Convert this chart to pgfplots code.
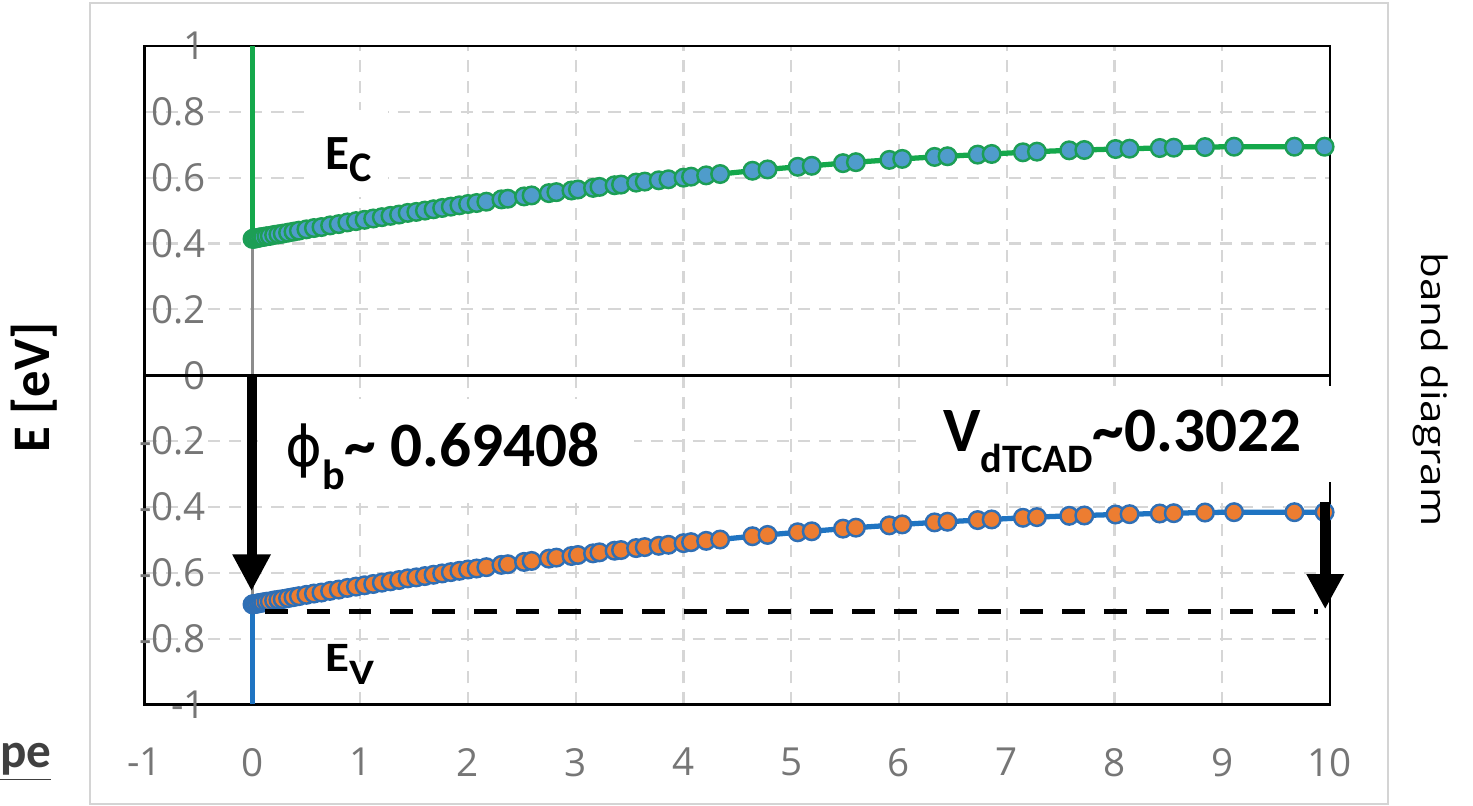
\documentclass[border=0pt]{standalone}
\usepackage{fontspec}
\setmainfont{Carlito}
\newfontfamily\tickfont{Open Sans}
\newfontfamily\phifont{DejaVu Sans}
\usepackage{pgfplots}
\pgfplotsset{compat=1.18}
\usepackage{pgfplotstable}
\usetikzlibrary{arrows.meta}

\definecolor{ecline}{HTML}{14A84B}
\definecolor{ecfill}{HTML}{4F9CCB}
\definecolor{ecedge}{HTML}{1C9E55}
\definecolor{evline}{HTML}{1F74C2}
\definecolor{evfill}{HTML}{ED7D31}
\definecolor{evedge}{HTML}{2F6FB5}
\definecolor{gridgray}{HTML}{D6D6D6}
\definecolor{tickgray}{HTML}{767676}
\definecolor{framegray}{HTML}{D4D4D4}
\definecolor{pegray}{HTML}{404040}

\pgfplotstableread{
x ec ev
0 0.414 -0.696
0.01 0.415 -0.695
0.02 0.415 -0.695
0.04 0.416 -0.694
0.06 0.418 -0.692
0.08 0.419 -0.691
0.10 0.420 -0.690
0.13 0.422 -0.688
0.16 0.423 -0.687
0.20 0.426 -0.684
0.24 0.428 -0.682
0.28 0.430 -0.680
0.33 0.433 -0.677
0.38 0.436 -0.674
0.43 0.439 -0.671
0.50 0.443 -0.667
0.57 0.447 -0.663
0.64 0.450 -0.660
0.72 0.455 -0.655
0.80 0.459 -0.651
0.88 0.464 -0.646
0.96 0.468 -0.642
1.04 0.472 -0.638
1.12 0.476 -0.634
1.20 0.480 -0.630
1.28 0.484 -0.626
1.36 0.488 -0.622
1.44 0.493 -0.617
1.52 0.496 -0.614
1.60 0.500 -0.610
1.68 0.504 -0.606
1.76 0.508 -0.602
1.84 0.512 -0.598
1.92 0.516 -0.594
2.00 0.520 -0.590
2.08 0.523 -0.587
2.17 0.527 -0.583
2.31 0.534 -0.576
2.37 0.536 -0.574
2.52 0.543 -0.567
2.59 0.546 -0.564
2.75 0.553 -0.557
2.82 0.556 -0.554
2.96 0.561 -0.549
3.02 0.564 -0.546
3.16 0.569 -0.541
3.22 0.572 -0.538
3.36 0.577 -0.533
3.42 0.579 -0.531
3.56 0.585 -0.525
3.64 0.588 -0.522
3.77 0.592 -0.518
3.86 0.595 -0.515
4.00 0.600 -0.510
4.07 0.603 -0.507
4.21 0.607 -0.503
4.34 0.611 -0.499
4.64 0.621 -0.489
4.78 0.625 -0.485
5.06 0.633 -0.477
5.19 0.636 -0.474
5.48 0.644 -0.466
5.60 0.647 -0.463
5.91 0.654 -0.456
6.03 0.657 -0.453
6.33 0.663 -0.447
6.45 0.665 -0.445
6.73 0.670 -0.440
6.86 0.672 -0.438
7.15 0.677 -0.433
7.28 0.679 -0.431
7.58 0.683 -0.427
7.72 0.684 -0.426
8.01 0.687 -0.423
8.14 0.688 -0.422
8.42 0.690 -0.420
8.55 0.691 -0.419
8.84 0.693 -0.417
9.11 0.694 -0.416
9.67 0.694 -0.416
9.95 0.694 -0.416
}\bands

\begin{document}
\begin{tikzpicture}
\begin{axis}[
  width=11.86cm, height=6.59cm, scale only axis,
  xmin=-1, xmax=10, ymin=-1, ymax=1,
  xtick={-1,0,...,10},
  xticklabels={-1,0,1,2,3,4,5,6,7,8,9,10},
  ytick={-1,-0.8,-0.6,-0.4,-0.2,0,0.2,0.4,0.6,0.8,1},
  yticklabels={-1,-0.8,-0.6,-0.4,-0.2,0,0.2,0.4,0.6,0.8,1},
  major tick length=0pt,
  grid=major,
  major grid style={draw=gridgray, line width=0.6pt, dash pattern=on 3.5pt off 2.5pt},
  axis line style={black, line width=0.8pt},
  tick label style={font=\tickfont\fontsize{11}{13}\selectfont, text=tickgray, inner sep=0pt},
  yticklabel style={anchor=east, xshift=0.62cm},
  xticklabel style={anchor=north, yshift=-0.43cm},
]
\draw[black!45, line width=0.7pt] (axis cs:0,-1) -- (axis cs:0,1);
\draw[black, line width=0.9pt] (axis cs:-1,0) -- (axis cs:10,0);
% conduction band
\addplot[ecline, line width=1.5pt, no marks] coordinates {(0,1) (0,0.414)};
\addplot[ecline, line width=1.5pt, no marks] table[x=x, y=ec] {\bands};
\addplot[only marks, mark=*, mark size=2.5pt, mark options={fill=ecfill, draw=ecedge, line width=0.7pt}] table[x=x, y=ec] {\bands};
% valence band
\addplot[evline, line width=1.5pt, no marks] coordinates {(0,-1) (0,-0.696)};
\addplot[evline, line width=1.5pt, no marks] table[x=x, y=ev] {\bands};
\addplot[only marks, mark=*, mark size=2.5pt, mark options={fill=evfill, draw=evedge, line width=0.7pt}] table[x=x, y=ev] {\bands};
\end{axis}

\begin{scope}[x=0.01cm, y=-0.01cm, shift={(-1.43cm,7.05cm)}]
  \path (0,0) rectangle (1473,807);
  \draw[framegray, line width=0.7pt] (88,3) rectangle (1388,805);
  % white label boxes
  \fill[white] (302,110) rectangle (387,197);
  \fill[white] (256,400) rectangle (633,495);
  \fill[white] (920,387) rectangle (1336,483);
  % labels
  \node[anchor=base west, inner sep=0pt] at (323,170)
    {\fontsize{14}{16}\selectfont\bfseries E\raisebox{-3.4pt}{\fontsize{12}{14}\selectfont C}};
  \node[anchor=base west, inner sep=0pt, yscale=0.85] at (323,672)
    {\fontsize{14}{16}\selectfont\bfseries E\raisebox{-4.5pt}{\fontsize{12}{14}\selectfont V}};
  \node[anchor=base west, inner sep=0pt] at (283,467)
    {{\phifont\fontsize{16}{18}\selectfont ϕ}\raisebox{-6.5pt}{\fontsize{12}{14}\selectfont\bfseries b}{\fontsize{18}{20}\selectfont\bfseries\textasciitilde\ 0.69408}};
  \node[anchor=base west, inner sep=0pt] at (942,452)
    {\fontsize{18}{20}\selectfont\bfseries V\raisebox{-6pt}{\fontsize{11.5}{13}\selectfont dTCAD}\textasciitilde0.3022};
  % arrows and dashed line
  \draw[black, line width=0.1cm, -{Triangle[width=0.36cm, length=0.37cm]}] (250,378) -- (250,592);
  \draw[black, line width=0.1cm, -{Triangle[width=0.35cm, length=0.35cm]}] (1325,503) -- (1325,610);
  \draw[black, line width=0.05cm, dash pattern=on 0.23cm off 0.19cm] (263,612) -- (1318,612);
  % outside texts
  \node[rotate=90, inner sep=0pt] at (32,388) {\fontsize{15}{17}\selectfont\bfseries E [eV]};
  \node[rotate=-90, xscale=1.2, inner sep=0pt] at (1431,390) {\tickfont\fontsize{10}{12}\selectfont band diagram};
  \node[anchor=base east, inner sep=0pt, text=pegray] at (50,768) {\fontsize{14}{16}\selectfont\bfseries\underline{pe}};
\end{scope}
\end{tikzpicture}
\end{document}
